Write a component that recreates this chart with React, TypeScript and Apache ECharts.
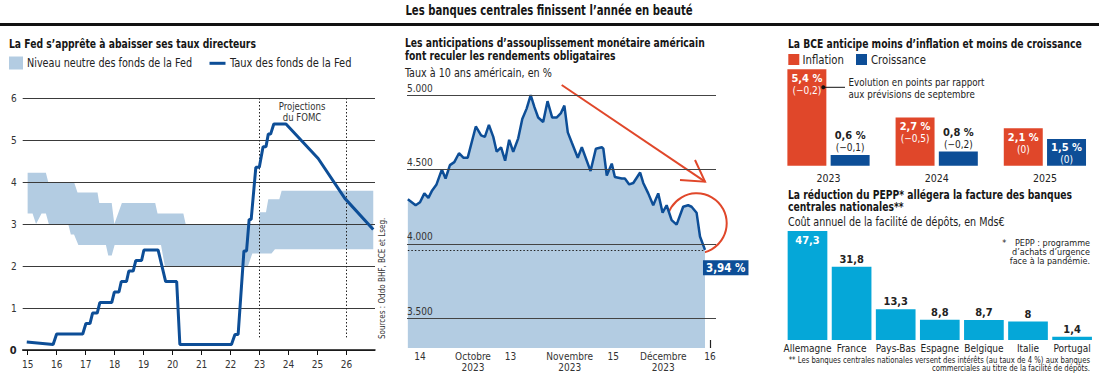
import React, { useEffect, useRef } from 'react';
import * as echarts from 'echarts';

const FONT = "'Liberation Sans Narrow', 'DejaVu Sans Condensed', 'Roboto Condensed', 'Liberation Sans', sans-serif";
const DARK = '#222222';
const NAVY = '#0d4e97';
const BAND = '#b3cce2';
const RED = '#e0472a';
const CYAN = '#05a7d8';

// ---------- Fed panel ----------
const fedYearTicks = [15, 16, 17, 18, 19, 20, 21, 22, 23, 24, 25, 26];
const fedRate: [number, number][] = [
  [14.97, 0.19], [15.88, 0.13], [16.0, 0.38], [16.9, 0.38], [17.01, 0.63], [17.15, 0.63],
  [17.24, 0.88], [17.4, 0.88], [17.49, 1.13], [17.9, 1.13], [17.99, 1.38], [18.15, 1.38],
  [18.23, 1.63], [18.41, 1.63], [18.49, 1.88], [18.64, 1.88], [18.73, 2.13], [18.93, 2.13],
  [19.01, 2.38], [19.5, 2.38], [19.76, 1.63], [20.14, 1.63], [20.25, 0.13], [22.03, 0.13],
  [22.15, 0.37], [22.26, 0.37], [22.46, 2.36], [22.55, 2.36], [22.64, 3.11], [22.71, 3.11],
  [22.87, 4.35], [22.99, 4.35], [23.12, 4.84], [23.22, 4.84], [23.3, 5.14], [23.38, 5.14],
  [23.49, 5.38], [23.91, 5.38], [25.02, 4.56], [25.94, 3.61], [26.92, 2.87],
];
const neutralUpper: [number, number][] = [
  [15, 4.22], [15.63, 4.22], [15.71, 4.0], [16.6, 4.0], [16.72, 3.75], [17.41, 3.75],
  [17.47, 3.5], [17.9, 3.5], [17.99, 3.0], [18.25, 3.5], [19.4, 3.5], [19.48, 3.25],
  [20.37, 3.25], [20.45, 3.0], [22.98, 3.0], [23.0, 3.28], [23.22, 3.28], [23.3, 3.59],
  [23.68, 3.59], [23.76, 3.79], [26.92, 3.79],
];
const neutralLower: [number, number][] = [
  [15, 3.25], [15.17, 3.25], [15.29, 3.0], [15.48, 3.25], [15.63, 3.25], [15.73, 3.0],
  [16.4, 3.0], [16.49, 2.75], [16.6, 2.75], [16.75, 2.5], [17.7, 2.5], [17.78, 2.25],
  [17.9, 2.25], [18.0, 2.5], [19.6, 2.5], [19.73, 2.0], [22.6, 2.0], [22.75, 2.3],
  [23.41, 2.3], [23.53, 2.4], [26.92, 2.4],
];
const fomcBounds = [23, 26];

// ---------- US 10y panel ----------
// x = calendar days from 14 Sept 2023
const tenYearDays = [
  -3.9, -1.4, 0, 1.4, 2.7, 3.9, 5.3, 7.0, 8.2, 9.6, 11, 12.5, 13.9, 15.3, 17.9, 19.6, 20.8,
  22.1, 23.5, 24.6, 26, 27.3, 28.6, 29.9, 31.5, 32.8, 34.2, 35.5, 36.7, 37.9, 39.5, 40.9,
  42.4, 43.8, 45.2, 46.3, 47.4, 48.7, 50.6, 51.9, 54.7, 56.4, 58.3, 58.8, 59.9, 61.5, 62.5,
  64.7, 65.7, 67.1, 68.4, 70.6, 71.6, 73.2, 74.8, 76.4, 77.8, 79.1, 80.7, 82.3, 84.4, 86,
  87.1, 88.7, 89.8, 91.4,
];
const tenYearYield = [
  4.30, 4.26, 4.28, 4.34, 4.31, 4.36, 4.40, 4.50, 4.44, 4.53, 4.55, 4.61, 4.58, 4.58, 4.79,
  4.73, 4.72, 4.80, 4.72, 4.62, 4.65, 4.56, 4.70, 4.62, 4.71, 4.84, 4.91, 5.00, 4.92, 4.85,
  4.82, 4.96, 4.85, 4.85, 4.88, 4.93, 4.75, 4.68, 4.58, 4.65, 4.49, 4.64, 4.65, 4.64, 4.46,
  4.54, 4.45, 4.44, 4.44, 4.40, 4.41, 4.48, 4.41, 4.34, 4.26, 4.34, 4.21, 4.26, 4.16, 4.13,
  4.25, 4.26, 4.25, 4.21, 4.05, 3.96,
];
const tenYearTickDays = [0, 17, 29, 48, 62, 78, 93];
const tenYearTickLabels = ['14', 'Octobre\n2023', '13', 'Novembre\n2023', '15', 'Décembre\n2023', '16'];
const tenYearLevels = [3.5, 4.0, 4.5, 5.0];
const tenYearLevelLabels = ['3.500', '4.000', '4.500', '5.000'];
const lastYieldLabel = '3,94 %';

// ---------- BCE panel ----------
const bceYears = ['2023', '2024', '2025'];
const inflation = [5.4, 2.7, 2.1];
const inflationChange = ['−0,2', '−0,5', '0'];
const growth = [0.6, 0.8, 1.5];
const growthChange = ['−0,1', '−0,2', '0'];

// ---------- PEPP panel ----------
const countries = ['Allemagne', 'France', 'Pays-Bas', 'Espagne', 'Belgique', 'Italie', 'Portugal'];
const depositCost = [47.3, 31.8, 13.3, 8.8, 8.7, 8, 1.4];

const fr = (v: number) => String(v).replace('.', ',');
const fr1 = (v: number) => v.toFixed(1).replace('.', ',');

const txt = (x: number, y: number, text: string, o: any = {}) => ({
  type: 'text',
  x,
  y,
  silent: true,
  scaleX: o.sx ?? 1,
  rotation: o.rotation ?? 0,
  style: {
    text,
    fontFamily: FONT,
    fontSize: o.fontSize ?? 12,
    fontWeight: o.fontWeight ?? 'normal',
    fill: o.fill ?? DARK,
    align: o.align ?? 'left',
    verticalAlign: o.verticalAlign ?? 'middle',
    lineHeight: o.lineHeight,
  },
});

export default function App() {
  const ref = useRef<HTMLDivElement>(null);
  useEffect(() => {
    if (!ref.current) return;
    const chart = echarts.init(ref.current, undefined, { renderer: 'svg' });
    const B = { fontWeight: 'bold', fontSize: 12.5, sx: 0.82, fill: '#161616' };
    const R = { fontSize: 12.5, sx: 0.9 };

    const option: any = {
      animation: false,
      textStyle: { fontFamily: FONT },
      grid: [
        { left: 22.7, top: 98, width: 352.3, height: 252 },
        { left: 407, top: 87.8, width: 309, height: 262.5 },
        { left: 774.4, top: 58.6, width: 329, height: 107.1 },
        { left: 785.45, top: 224.8, width: 308.7, height: 115.2 },
      ],
      xAxis: [
        {
          gridIndex: 0, type: 'value', min: 14.83, max: 26.98, z: 3,
          splitLine: { show: false },
          axisLine: { show: true, lineStyle: { color: '#111', width: 1.5 } },
          axisTick: { show: true, customValues: fedYearTicks, length: 5, lineStyle: { color: '#111' } },
          axisLabel: { customValues: fedYearTicks, fontSize: 10, color: '#333', margin: 9, fontFamily: FONT },
        },
        {
          gridIndex: 1, type: 'value', min: -4.17, max: 94.93,
          splitLine: { show: false },
          axisLine: { show: false },
          axisTick: { show: true, inside: true, length: 8, customValues: tenYearTickDays, lineStyle: { color: '#222', width: 1.2 } },
          axisLabel: {
            customValues: tenYearTickDays, fontSize: 10, color: '#333', margin: 3, lineHeight: 11, fontFamily: FONT,
            formatter: (v: number) => tenYearTickLabels[tenYearTickDays.indexOf(v)] ?? '',
          },
        },
        {
          gridIndex: 2, type: 'category', data: bceYears,
          axisLine: { show: false }, axisTick: { show: false },
          axisLabel: { fontSize: 10.5, color: DARK, margin: 7, fontFamily: FONT },
        },
        {
          gridIndex: 3, type: 'category', data: countries,
          axisLine: { show: false }, axisTick: { show: false },
          axisLabel: { fontSize: 10, color: DARK, margin: 3, fontFamily: FONT, interval: 0 },
        },
      ],
      yAxis: [
        {
          gridIndex: 0, type: 'value', min: 0, max: 6, interval: 1, z: 3,
          axisLine: { show: false }, axisTick: { show: false },
          splitLine: { lineStyle: { color: '#3a3a3a', width: 1 } },
          axisLabel: {
            fontSize: 10, color: '#333', margin: 6, fontFamily: FONT,
            formatter: (v: number) => (v === 0 ? '{b|0}' : String(v)),
            rich: { b: { fontWeight: 'bold', fontSize: 11, color: '#222', fontFamily: FONT } },
          },
        },
        { gridIndex: 1, type: 'value', min: 3.3, max: 5.05, show: false, splitLine: { show: false } },
        { gridIndex: 2, type: 'value', min: 0, max: 6, show: false, splitLine: { show: false } },
        { gridIndex: 3, type: 'value', min: 0, max: 50, show: false, splitLine: { show: false } },
      ],
      series: [
        {
          type: 'custom', xAxisIndex: 0, yAxisIndex: 0, z: 1, silent: true,
          data: [[15, 3]],
          renderItem: (_p: any, api: any) => {
            const pts = neutralUpper.map((p) => api.coord(p)).concat(
              neutralLower.slice().reverse().map((p) => api.coord(p))
            );
            return { type: 'polygon', shape: { points: pts }, style: { fill: BAND } };
          },
        },
        {
          type: 'line', xAxisIndex: 0, yAxisIndex: 0, z: 5, silent: true,
          data: fedRate, showSymbol: false,
          lineStyle: { color: NAVY, width: 3 },
          markLine: {
            symbol: 'none', silent: true, label: { show: false },
            lineStyle: { color: '#222', type: [1.5, 2], width: 1 },
            data: fomcBounds.map((x) => [{ coord: [x, 6] }, { coord: [x, 0.3] }]),
          },
        },
        {
          type: 'line', xAxisIndex: 1, yAxisIndex: 1, silent: true,
          data: tenYearDays.map((d, i) => [d, tenYearYield[i]]),
          showSymbol: false,
          lineStyle: { color: NAVY, width: 2.5 },
          areaStyle: { color: BAND, opacity: 1, origin: 'start' },
          endLabel: {
            show: true, formatter: () => lastYieldLabel, offset: [-10, 18],
            backgroundColor: NAVY, color: '#fff', fontWeight: 'bold', fontSize: 11.5,
            padding: [2, 3, 1, 3], fontFamily: FONT,
          },
          markLine: {
            symbol: 'none', silent: true,
            lineStyle: { color: '#444', width: 1, type: 'solid' },
            label: { position: 'insideStartTop', fontSize: 10, color: '#333', distance: [0, 2], fontFamily: FONT },
            data: [
              ...tenYearLevels.map((v, i) => ({ yAxis: v, label: { formatter: tenYearLevelLabels[i] } })),
              [
                { coord: [tenYearDays[0], tenYearYield[tenYearYield.length - 1]], lineStyle: { type: [1.5, 2], color: '#222' }, label: { show: false } },
                { coord: [tenYearDays[tenYearDays.length - 1], tenYearYield[tenYearYield.length - 1]] },
              ],
            ],
          },
        },
        {
          type: 'bar', xAxisIndex: 2, yAxisIndex: 2, silent: true,
          data: inflation, barGap: '11%', barCategoryGap: '24%',
          itemStyle: { color: RED },
          label: {
            show: true, position: 'insideTop', distance: 3, lineHeight: 12,
            formatter: (p: any) => `{v|${fr1(p.value)} %}\n{c|(${inflationChange[p.dataIndex]})}`,
            rich: {
              v: { color: '#fff', fontWeight: 'bold', fontSize: 11, fontFamily: FONT, lineHeight: 12 },
              c: { color: '#fff', fontSize: 10, fontFamily: FONT, lineHeight: 12 },
            },
          },
        },
        {
          type: 'bar', xAxisIndex: 2, yAxisIndex: 2, silent: true,
          data: growth.map((v, i) => (i === 2 ? { value: v, label: { position: 'insideTop', distance: 3 } } : v)),
          barGap: '11%', barCategoryGap: '24%',
          itemStyle: { color: NAVY },
          label: {
            show: true, position: 'top', distance: 1, lineHeight: 12,
            formatter: (p: any) =>
              p.dataIndex === 2
                ? `{vw|${fr1(p.value)} %}\n{cw|(${growthChange[p.dataIndex]})}`
                : `{v|${fr1(p.value)} %}\n{c|(${growthChange[p.dataIndex]})}`,
            rich: {
              v: { color: DARK, fontWeight: 'bold', fontSize: 11, fontFamily: FONT, lineHeight: 12 },
              c: { color: DARK, fontSize: 10, fontFamily: FONT, lineHeight: 12 },
              vw: { color: '#fff', fontWeight: 'bold', fontSize: 11, fontFamily: FONT, lineHeight: 12 },
              cw: { color: '#fff', fontSize: 10, fontFamily: FONT, lineHeight: 12 },
            },
          },
        },
        {
          type: 'bar', xAxisIndex: 3, yAxisIndex: 3, silent: true,
          data: depositCost.map((v, i) => (i === 0 ? { value: v, label: { position: 'insideTop', color: '#fff', distance: 4 } } : v)),
          barCategoryGap: '10%',
          itemStyle: { color: CYAN },
          label: {
            show: true, position: 'top', distance: 2, fontSize: 11, fontWeight: 'bold', color: DARK, fontFamily: FONT,
            formatter: (p: any) => fr(p.value),
          },
        },
      ],
      graphic: [
        txt(549, 9.5, 'Les banques centrales finissent l’année en beauté', { ...B, fontSize: 14.5, sx: 0.775, align: 'center' }),
        { type: 'rect', silent: true, shape: { x: 0, y: 23, width: 1099, height: 3 }, style: { fill: '#111' } },
        // Fed panel
        txt(9, 44, 'La Fed s’apprête à abaisser ses taux directeurs', B),
        { type: 'rect', silent: true, shape: { x: 9, y: 56.5, width: 14, height: 13 }, style: { fill: BAND } },
        txt(27, 63, 'Niveau neutre des fonds de la Fed', { ...R, sx: 0.86 }),
        { type: 'line', silent: true, shape: { x1: 209.5, y1: 63.3, x2: 225.5, y2: 63.3 }, style: { stroke: NAVY, lineWidth: 3 } },
        txt(230, 63, 'Taux des fonds de la Fed', { ...R, sx: 0.88 }),
        txt(302, 112, 'Projections\ndu FOMC', { fontSize: 10, align: 'center', fill: '#333', lineHeight: 11, sx: 0.95 }),
        txt(382, 339, 'Sources : Oddo BHF, BCE et Lseg.', { fontSize: 8, rotation: Math.PI / 2, fill: '#333' }),
        // 10y panel
        txt(405, 43, 'Les anticipations d’assouplissement monétaire américain', B),
        txt(405, 56, 'font reculer les rendements obligataires', B),
        txt(405, 72.5, 'Taux à 10 ans américain, en %', { fontSize: 12, sx: 0.89 }),
        { type: 'line', silent: true, shape: { x1: 561.7, y1: 85, x2: 705, y2: 181.7 }, style: { stroke: RED, lineWidth: 2 } },
        { type: 'polyline', silent: true, shape: { points: [[695, 160], [705, 181.7], [680, 180]] }, style: { stroke: RED, lineWidth: 2, fill: 'none' } },
        { type: 'circle', silent: true, shape: { cx: 696.7, cy: 223.3, r: 30 }, style: { stroke: RED, lineWidth: 2, fill: 'none' } },
        // BCE panel
        txt(788, 43.5, 'La BCE anticipe moins d’inflation et moins de croissance', B),
        { type: 'rect', silent: true, shape: { x: 788.3, y: 54, width: 11, height: 11 }, style: { fill: RED } },
        txt(802.5, 60, 'Inflation', R),
        { type: 'rect', silent: true, shape: { x: 856, y: 54, width: 11, height: 11 }, style: { fill: NAVY } },
        txt(871, 60, 'Croissance', R),
        { type: 'circle', silent: true, z: 10, shape: { cx: 823.3, cy: 87.3, r: 2 }, style: { fill: '#111' } },
        { type: 'line', silent: true, z: 10, shape: { x1: 823.3, y1: 87.3, x2: 845, y2: 87.3 }, style: { stroke: '#111', lineWidth: 1 } },
        txt(848.5, 87.5, 'Evolution en points par rapport\naux prévisions de septembre', { fontSize: 11, lineHeight: 11.5, sx: 0.88 }),
        // PEPP panel
        txt(788, 195, 'La réduction du PEPP* allégera la facture des banques', B),
        txt(788, 207, 'centrales nationales**', B),
        txt(788, 222, 'Coût annuel de la facilité de dépôts, en Mds€', { fontSize: 12.5, sx: 0.85 }),
        txt(1002.3, 243, '*', { fontSize: 9 }),
        txt(1090, 252, 'PEPP : programme\nd’achats d’urgence\nface à la pandémie.', { fontSize: 9, align: 'right', lineHeight: 9 }),
        txt(1090, 364, '** Les banques centrales nationales versent des intérêts (au taux de 4 %) aux banques\ncommerciales au titre de la facilité de dépôts.', { fontSize: 8.5, align: 'right', lineHeight: 8.5, sx: 0.9 }),
      ],
    };
    chart.setOption(option);
    return () => chart.dispose();
  }, []);
  return (
    <div
      ref={ref}
      style={{ position: 'absolute', left: 0, top: 0, width: 1099, height: 373, background: '#fff' }}
    />
  );
}
